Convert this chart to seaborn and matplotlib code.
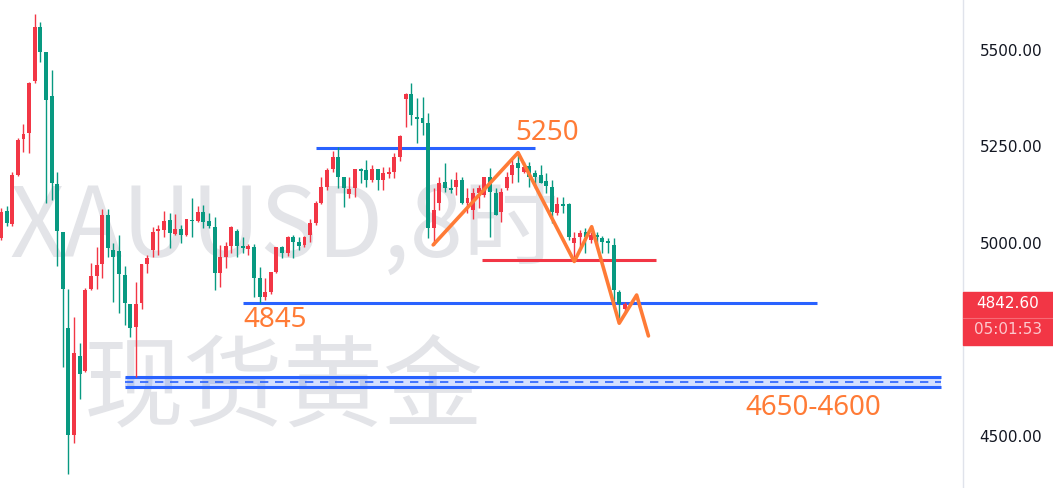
import matplotlib
matplotlib.use("Agg")
import matplotlib.pyplot as plt
import matplotlib.transforms as mtransforms
from matplotlib.patches import Rectangle
import numpy as np
import pandas as pd
import seaborn as sns

sns.set_theme(style="white")
plt.rcParams["font.family"] = ["DejaVu Sans", "Noto Sans CJK SC"]

# 8h candles, XAUUSD
opens = [5013, 5083, 5049, 5176, 5269, 5285, 5420, 5560, 5495, 5381,
         5153, 5028, 4780, 4503, 4707, 4668, 4881, 4914, 4946, 5072,
         4982, 4979, 4917, 4842, 4782, 4845, 4946, 4982, 5031, 5034,
         5060, 5023, 5036, 5021, 5060, 5057, 5080, 5057, 5041, 4922,
         4964, 4992, 5031, 4992, 4984, 4990, 4909, 4860, 4873, 4925,
         4990, 4974, 5015, 5003, 4995, 5021, 5052, 5104, 5145, 5192,
         5223, 5171, 5127, 5142, 5192, 5189, 5163, 5192, 5163, 5179,
         5184, 5223, 5373, 5386, 5326, 5324, 5311, 5039, 5104, 5158,
         5142, 5145, 5163, 5104, 5085, 5130, 5124, 5171, 5130, 5080,
         5142, 5176, 5207, 5184, 5199, 5181, 5176, 5161, 5145, 5078,
         5101, 5101, 5000, 5015, 5028, 5008, 5021, 5013, 5005, 4995,
         4873, 4829]
highs = [5091, 5096, 5184, 5272, 5308, 5417, 5593, 5572, 5495, 5448,
         5184, 5028, 4881, 4808, 4741, 4883, 4948, 4990, 5088, 5088,
         5000, 5021, 4940, 4842, 4899, 4946, 4969, 5041, 5047, 5083,
         5078, 5075, 5047, 5062, 5117, 5096, 5098, 5078, 5067, 4995,
         5003, 5044, 5036, 5015, 4997, 4997, 4938, 4909, 4925, 4990,
         4992, 5018, 5021, 5015, 5018, 5062, 5109, 5171, 5194, 5238,
         5249, 5171, 5171, 5192, 5194, 5215, 5202, 5192, 5197, 5197,
         5233, 5280, 5389, 5414, 5376, 5378, 5337, 5142, 5171, 5207,
         5166, 5184, 5171, 5142, 5142, 5150, 5171, 5194, 5142, 5142,
         5184, 5223, 5230, 5210, 5210, 5189, 5202, 5181, 5163, 5119,
         5119, 5104, 5028, 5034, 5039, 5028, 5028, 5018, 5013, 5013,
         4878, 4847]
lows = [5008, 5044, 5044, 5174, 5236, 5233, 5414, 5469, 5104, 5111,
        4940, 4679, 4401, 4482, 4596, 4666, 4878, 4881, 4909, 4964,
        4847, 4819, 4788, 4756, 4653, 4829, 4922, 4964, 4969, 5015,
        4987, 5021, 5000, 5018, 5015, 5054, 5039, 5039, 4878, 4886,
        4935, 4974, 4964, 4974, 4969, 4860, 4845, 4852, 4868, 4922,
        4961, 4966, 4961, 4982, 4990, 5003, 5047, 5101, 5137, 5184,
        5142, 5093, 5117, 5119, 5155, 5145, 5158, 5137, 5137, 5168,
        5168, 5212, 5300, 5306, 5259, 5280, 5013, 4995, 5085, 5132,
        5130, 5124, 5101, 5078, 5062, 5091, 5119, 5015, 5072, 5054,
        5137, 5155, 5158, 5181, 5145, 5142, 5155, 5130, 5052, 5072,
        5078, 5008, 4964, 4990, 4974, 5000, 4995, 4974, 4974, 4832,
        4806, 4819]
closes = [5080, 5052, 5176, 5267, 5282, 5414, 5560, 5495, 5370, 5155,
          5031, 4881, 4503, 4715, 4661, 4878, 4914, 4943, 5072, 4987,
          4964, 4920, 4845, 4780, 4842, 4946, 4961, 5028, 5036, 5057,
          5026, 5036, 5021, 5062, 5057, 5080, 5054, 5044, 4922, 4964,
          4992, 5041, 4992, 4987, 4992, 4909, 4860, 4873, 4925, 4990,
          4974, 5015, 5003, 4992, 5015, 5052, 5104, 5145, 5189, 5223,
          5171, 5142, 5140, 5192, 5186, 5163, 5192, 5163, 5181, 5184,
          5223, 5277, 5386, 5332, 5321, 5311, 5039, 5085, 5155, 5142,
          5137, 5163, 5104, 5117, 5130, 5142, 5171, 5132, 5072, 5132,
          5171, 5202, 5194, 5197, 5171, 5171, 5155, 5148, 5080, 5101,
          5096, 5015, 5013, 5026, 5015, 5021, 5015, 5003, 5000, 4878,
          4842, 4842.6]

# drawings (x in bar index)
zig_x = [76.9, 92.0, 102.0, 105.1, 110.0, 113.1, 115.2]
zig_y = [4995, 5234, 4952, 5042, 4792, 4865, 4759]
res_level, res_span = 5245, (56.0, 95.0)
sup_level, sup_span = 4845, (43.1, 145.2)
mid_level, mid_span = 4956, (85.6, 116.5)
zone_top, zone_bot, zone_span = 4653, 4627, (22.1, 167.3)
yticks = [4500, 4750, 5000, 5250, 5500]
last_price = 4842.60
countdown = "05:01:53"

RED = "#f23645"
GREEN = "#089981"
BLUE = "#2962ff"
ORANGE = "#ff7b36"

df = pd.DataFrame({"o": opens, "h": highs, "l": lows, "c": closes})
df["i"] = np.arange(len(df))
up = df["c"] >= df["o"]
colors = np.where(up, RED, GREEN)
body_lo = df[["o", "c"]].min(axis=1)
body_h = (df["c"] - df["o"]).abs().clip(lower=1.5)

fig = plt.figure(figsize=(10.53, 4.88), dpi=100)
ax = fig.add_axes([0, 0, 963 / 1053, 1])

# watermark
ax.text(0.295, 0.4734, "XAUUSD,8时", transform=ax.transAxes, ha="center",
        va="baseline", fontsize=69, color="#e3e4e8", family="Noto Sans CJK SC", zorder=0)
ax.text(0.295, 0.1414, "现货黄金", transform=ax.transAxes, ha="center",
        va="baseline", fontsize=72, color="#e3e4e8", family="Noto Sans CJK SC", zorder=0)

# zone
ax.fill_between(zone_span, zone_bot, zone_top, color=BLUE, alpha=0.2, lw=0, zorder=1)
ax.hlines([zone_top, zone_bot], *zone_span, color=BLUE, lw=2.2, zorder=2)
ax.hlines((zone_top + zone_bot) / 2, *zone_span, color=BLUE, lw=1.2,
          linestyles=(0, (5, 4)), zorder=2)

ax.hlines(res_level, *res_span, color=BLUE, lw=2.2, zorder=2)
ax.hlines(sup_level, *sup_span, color=BLUE, lw=2.2, zorder=2)
ax.hlines(mid_level, *mid_span, color=RED, lw=2.2, zorder=2)

# candles
ax.vlines(df["i"], df["l"], df["h"], colors=colors, lw=1, zorder=3)
ax.bar(df["i"], body_h, bottom=body_lo, width=0.7, color=colors, lw=0, zorder=4)

sns.lineplot(x=zig_x, y=zig_y, sort=False, estimator=None, color=ORANGE,
             lw=2.6, ax=ax, zorder=6)

ax.text(91.6, 5285, "5250", color=ORANGE, fontsize=20, family="Noto Sans",
        ha="left", va="center", zorder=7)
ax.text(43.1, 4800, "4845", color=ORANGE, fontsize=20, family="Noto Sans",
        ha="left", va="center", zorder=7)
ax.text(132.4, 4572, "4650-4600", color=ORANGE, fontsize=20, family="Noto Sans",
        ha="left", va="center", zorder=7)

ax.set_xlim(-0.18, 171.17)
ax.set_ylim(4365, 5629.5)
ax.set_xticks([])
ax.yaxis.tick_right()
ax.set_yticks(yticks)
ax.set_yticklabels([f"{t:.2f}" for t in yticks])
ax.tick_params(axis="y", length=0, pad=12, labelsize=11, labelcolor="#131722")
for s in ["top", "left", "bottom"]:
    ax.spines[s].set_visible(False)
ax.spines["right"].set_color("#e0e3eb")
ax.spines["right"].set_linewidth(1)

# last price label
trans = mtransforms.blended_transform_factory(ax.transAxes, ax.transData)
ax.add_patch(Rectangle((1.0, last_price - 107), 90 / 963, 137, transform=trans,
                       color=RED, clip_on=False, zorder=10))
ax.plot([1.0, 1.0 + 90 / 963], [last_price - 37] * 2, transform=trans,
        color="#f56b76", lw=0.8, clip_on=False, zorder=11)
ax.text(1.0 + 45 / 963, last_price, f"{last_price:.2f}", transform=trans,
        ha="center", va="center", fontsize=11, color="white", clip_on=False, zorder=12)
ax.text(1.0 + 45 / 963, last_price - 68, countdown, transform=trans,
        ha="center", va="center", fontsize=11, color="#fcc8cd", clip_on=False, zorder=12)

fig.savefig("out.png", dpi=100)
